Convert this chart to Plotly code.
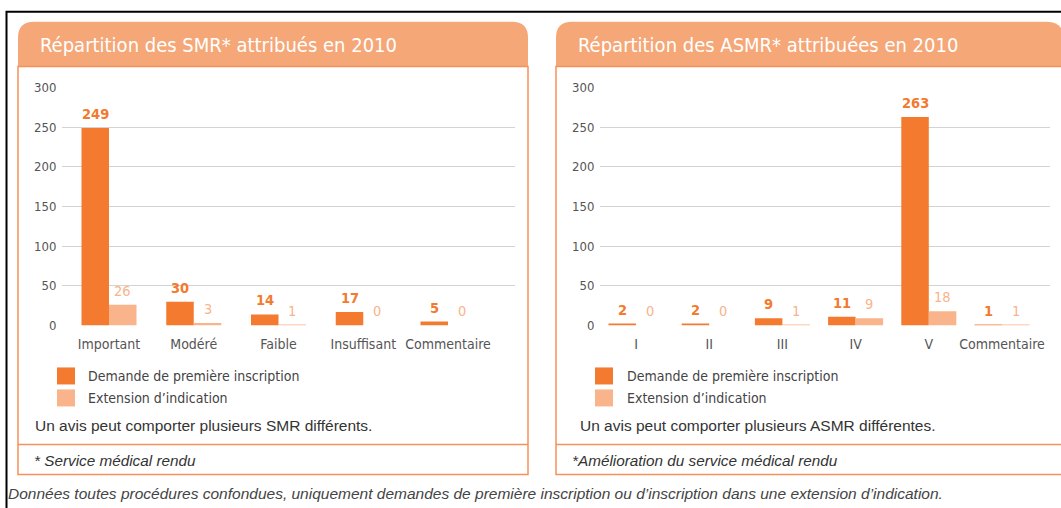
import plotly.graph_objects as go

# --- data -------------------------------------------------------------
smr_categories = ["Important", "Modéré", "Faible", "Insuffisant", "Commentaire"]
smr_premiere = [249, 30, 14, 17, 5]
smr_extension = [26, 3, 1, 0, 0]

asmr_categories = ["I", "II", "III", "IV", "V", "Commentaire"]
asmr_premiere = [2, 2, 9, 11, 263, 1]
asmr_extension = [0, 0, 1, 9, 18, 1]

series_names = ["Demande de première inscription", "Extension d\u2019indication"]
y_ticks = [0, 50, 100, 150, 200, 250, 300]

titles = ["Répartition des SMR* attribués en 2010",
          "Répartition des ASMR* attribuées en 2010"]
notes = ["Un avis peut comporter plusieurs SMR différents.",
         "Un avis peut comporter plusieurs ASMR différentes."]
footnotes = ["* Service médical rendu", "*Amélioration du service médical rendu"]
bottom_text = ("Données toutes procédures confondues, uniquement demandes de première "
               "inscription ou d\u2019inscription dans une extension d\u2019indication.")

# --- style ------------------------------------------------------------
W, H = 1061, 508
DARK = "#F37A2E"
LIGHT = "#F9B48B"
HEADER = "#F5A778"
BORDER = "#F7915A"
COND = "Liberation Sans Narrow, DejaVu Sans Condensed, Roboto, sans-serif"
SANS = "Liberation Sans, Arial, sans-serif"

# vertical correction measured from earlier renders of the page
Y_OFF, Y_SCALE = 7.35, 0.971


def px(x):
    return x / W


def py(y):
    return 1 - ((y - Y_OFF) / Y_SCALE) / H


fig = go.Figure()

panels = [
    dict(cats=smr_categories, dark=smr_premiere, light=smr_extension,
         left=18, right=528, plot_x=(62, 515), unit=84.75, first=109,
         sw_x=57, txt_x=86, note_x=33, foot_x=32, title_x=38, xa="x", ya="y"),
    dict(cats=asmr_categories, dark=asmr_premiere, light=asmr_extension,
         left=556, right=1063, plot_x=(600, 1050), unit=73.2, first=636,
         sw_x=595, txt_x=625, note_x=578, foot_x=570, title_x=576, xa="x2", ya="y2"),
]

shapes = []
annotations = []
PLOT_TOP, PLOT_BOTTOM = 88, 326

for k, p in enumerate(panels):
    bw = 27.5 / p["unit"]
    for vals, color, off, name in [(p["dark"], DARK, -bw, series_names[0]),
                                   (p["light"], LIGHT, 0, series_names[1])]:
        fig.add_trace(go.Bar(
            x=p["cats"], y=vals, name=name, marker=dict(color=color, line=dict(width=0)),
            offset=off, width=bw, xaxis=p["xa"], yaxis=p["ya"], showlegend=False,
        ))
    # value labels above bars
    for i, (d, l) in enumerate(zip(p["dark"], p["light"])):
        annotations.append(dict(x=i - bw / 2, y=d, xref=p["xa"], yref=p["ya"], text=f"<b>{d}</b>",
                                showarrow=False, yanchor="bottom", yshift=4,
                                font=dict(family=COND, size=14.5, color=DARK)))
        annotations.append(dict(x=i + bw / 2, y=l, xref=p["xa"], yref=p["ya"], text=str(l),
                                showarrow=False, yanchor="bottom", yshift=4,
                                font=dict(family=COND, size=14.5, color=LIGHT)))

    x0, x1 = p["plot_x"]
    rng = [-(p["first"] - x0) / p["unit"], (x1 - p["first"]) / p["unit"]]
    axis_x = dict(domain=[px(x0), px(x1)], range=rng, type="category", anchor=p["ya"],
                  showgrid=False, zeroline=False, showline=False,
                  ticks="outside", ticklen=6, tickcolor="rgba(0,0,0,0)",
                  tickfont=dict(family=COND, size=14, color="#555"))
    axis_y = dict(domain=[py(PLOT_BOTTOM), py(PLOT_TOP)], range=[0, 300], anchor=p["xa"],
                  tickvals=y_ticks, showgrid=True, gridcolor="#D3D3D3", gridwidth=1,
                  zeroline=False, showline=False, ticks="outside", ticklen=2,
                  tickcolor="rgba(0,0,0,0)",
                  tickfont=dict(family=COND, size=13, color="#555"))
    if k == 0:
        fig.update_layout(xaxis=axis_x, yaxis=axis_y)
    else:
        fig.update_layout(xaxis2=axis_x, yaxis2=axis_y)

    # panel frame: rounded header + content box
    L, R, T, HB, B, r = p["left"], p["right"], 22, 67, 475, 16
    path = (f"M {px(L)},{py(HB)} L {px(L)},{py(T + r)} Q {px(L)},{py(T)} {px(L + r)},{py(T)} "
            f"L {px(R - r)},{py(T)} Q {px(R)},{py(T)} {px(R)},{py(T + r)} L {px(R)},{py(HB)} Z")
    shapes.append(dict(type="path", path=path, xref="paper", yref="paper",
                       fillcolor=HEADER, line=dict(width=0), layer="below"))
    shapes.append(dict(type="rect", xref="paper", yref="paper", x0=px(L), x1=px(R),
                       y0=py(B), y1=py(HB), line=dict(color=BORDER, width=1.5), layer="below"))
    shapes.append(dict(type="line", xref="paper", yref="paper", x0=px(L), x1=px(R),
                       y0=py(445), y1=py(445), line=dict(color=BORDER, width=1.5)))
    annotations.append(dict(x=px(p["title_x"]), y=py(45), xref="paper", yref="paper",
                            text=titles[k], showarrow=False, xanchor="left", yanchor="middle",
                            font=dict(family=COND, size=20, color="white")))

    # legend swatches
    for j, (color, yy) in enumerate([(DARK, 376.5), (LIGHT, 398.5)]):
        shapes.append(dict(type="rect", xref="paper", yref="paper",
                           x0=px(p["sw_x"]), x1=px(p["sw_x"] + 18),
                           y0=py(yy + 8.5), y1=py(yy - 8.5),
                           fillcolor=color, line=dict(width=0)))
        annotations.append(dict(x=px(p["txt_x"]), y=py(yy), xref="paper", yref="paper",
                                text=series_names[j], showarrow=False, xanchor="left",
                                yanchor="middle", font=dict(family=COND, size=14, color="#444")))
    annotations.append(dict(x=px(p["note_x"]), y=py(426), xref="paper", yref="paper",
                            text=notes[k], showarrow=False, xanchor="left", yanchor="middle",
                            font=dict(family=SANS, size=15.5, color="#333")))
    annotations.append(dict(x=px(p["foot_x"]), y=py(461), xref="paper", yref="paper",
                            text=f"<i>{footnotes[k]}</i>", showarrow=False, xanchor="left",
                            yanchor="middle", font=dict(family=SANS, size=15.3, color="#333")))

# outer black frame (left and top edges)
shapes.append(dict(type="path", xref="paper", yref="paper",
                   path=f"M {px(6.5)},{py(520)} L {px(6.5)},{py(12)} L {px(1063)},{py(12)}",
                   line=dict(color="black", width=2)))
annotations.append(dict(x=px(6), y=py(494), xref="paper", yref="paper",
                        text=f"<i>{bottom_text}</i>", showarrow=False, xanchor="left",
                        yanchor="middle", font=dict(family=SANS, size=15.5, color="#444")))

fig.update_layout(
    width=W, height=H, margin=dict(l=0, r=0, t=0, b=0),
    paper_bgcolor="white", plot_bgcolor="rgba(0,0,0,0)",
    barmode="overlay", showlegend=False,
    shapes=shapes, annotations=annotations,
)

# the page should show the figure edge to edge, without the default body margin
fig.write_html("out.html", config={"displayModeBar": False},
               post_script="document.body.style.margin='0';document.body.style.overflow='hidden';")
